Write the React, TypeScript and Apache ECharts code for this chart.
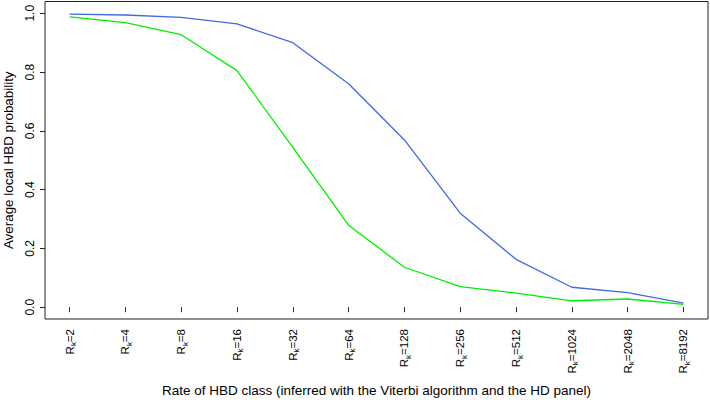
import React, { useEffect, useRef } from "react";
import * as echarts from "echarts";

const rateClasses = ["2", "4", "8", "16", "32", "64", "128", "256", "512", "1024", "2048", "8192"];
const blueValues = [0.997, 0.994, 0.986, 0.964, 0.9, 0.76, 0.569, 0.32, 0.163, 0.068, 0.05, 0.014];
const greenValues = [0.988, 0.968, 0.927, 0.805, 0.544, 0.279, 0.136, 0.07, 0.048, 0.022, 0.028, 0.01];
const yTicks = [0, 0.2, 0.4, 0.6, 0.8, 1.0];
const xTicks = rateClasses.map((_, i) => i + 1);

const FONT = "'Liberation Sans', Arial, Helvetica, sans-serif";
const X_MIN = 0.56;
const X_MAX = 12.44;
const Y_MIN = -0.04;
const Y_MAX = 1.04;

export default function App() {
  const ref = useRef<HTMLDivElement>(null);
  useEffect(() => {
    if (!ref.current) return;
    const chart = echarts.init(ref.current, undefined, { renderer: "svg" });
    const axisColor = "#222";
    chart.setOption({
      animation: false,
      backgroundColor: "#fff",
      grid: {
        left: 45,
        top: 1.5,
        width: 663,
        height: 317.5,
        containLabel: false,
        outerBoundsMode: "none",
        show: false,
      },
      xAxis: {
        type: "value",
        min: X_MIN,
        max: X_MAX,
        name: "Rate of HBD class (inferred with the Viterbi algorithm and the HD panel)",
        nameLocation: "middle",
        nameGap: 64,
        nameTextStyle: { fontFamily: FONT, fontSize: 13.5, color: "#000" },
        axisLine: { show: false },
        splitLine: { show: false },
        axisTick: {
          show: true,
          length: 5,
          customValues: xTicks,
          lineStyle: { color: axisColor, width: 1 },
        },
        axisLabel: {
          customValues: xTicks,
          rotate: 90,
          margin: 10,
          fontFamily: FONT,
          fontSize: 11.5,
          color: "#000",
          formatter: (v: number) => {
            const idx = Math.round(v) - 1;
            const r = rateClasses[idx];
            return r === undefined ? "" : `{a|R}{s|k}{a|=${r}}`;
          },
          rich: {
            a: { fontFamily: FONT, fontSize: 11.5, color: "#000", lineHeight: 16 },
            s: { fontFamily: FONT, fontSize: 8, color: "#000", lineHeight: 9, verticalAlign: "bottom" },
          },
        },
      },
      yAxis: {
        type: "value",
        min: Y_MIN,
        max: Y_MAX,
        name: "Average local HBD probability",
        nameLocation: "middle",
        nameGap: 30,
        nameRotate: 90,
        nameTextStyle: { fontFamily: FONT, fontSize: 13.4, color: "#000" },
        axisLine: { show: false },
        splitLine: { show: false },
        axisTick: {
          show: true,
          length: 5,
          customValues: yTicks,
          lineStyle: { color: axisColor, width: 1 },
        },
        axisLabel: {
          customValues: yTicks,
          rotate: 90,
          margin: 9,
          fontFamily: FONT,
          fontSize: 12,
          color: "#000",
          formatter: (v: number) => v.toFixed(1),
        },
      },
      series: [
        {
          type: "line",
          data: blueValues.map((v, i) => [i + 1, v]),
          showSymbol: false,
          symbol: "none",
          lineStyle: { color: "#4169E1", width: 1.3 },
        },
        {
          type: "line",
          data: greenValues.map((v, i) => [i + 1, v]),
          showSymbol: false,
          symbol: "none",
          lineStyle: { color: "#00EE00", width: 1.3 },
        },
      ],
    });
    const tl = chart.convertToPixel({ gridIndex: 0 }, [X_MIN, Y_MAX]) as number[];
    const br = chart.convertToPixel({ gridIndex: 0 }, [X_MAX, Y_MIN]) as number[];
    if (tl && br) {
      chart.setOption({
        graphic: [
          {
            type: "rect",
            silent: true,
            z: 100,
            shape: { x: tl[0], y: tl[1], width: br[0] - tl[0], height: br[1] - tl[1] },
            style: { fill: "none", stroke: axisColor, lineWidth: 1 },
          },
        ],
      });
    }
    return () => chart.dispose();
  }, []);
  return <div ref={ref} style={{ width: 710, height: 400, position: "absolute", left: 0, top: 0 }} />;
}
